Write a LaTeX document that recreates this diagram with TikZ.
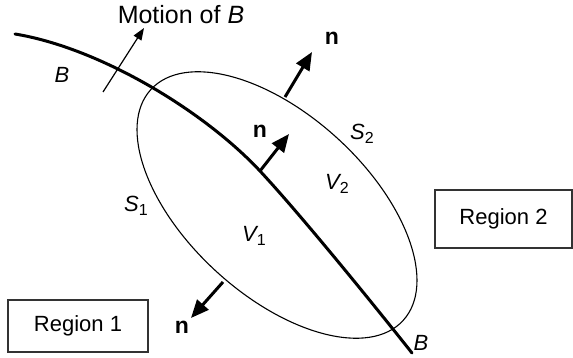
\documentclass[tikz,border=0pt]{standalone}
\usepackage{fontspec}
\setmainfont{Liberation Sans}
\usetikzlibrary{arrows.meta}
\newcommand{\lowsub}[1]{\raisebox{-0.32ex}{\fontsize{16}{16}\selectfont\upshape #1}}
\begin{document}
\begin{tikzpicture}[x=1pt,y=-1pt,
  ital/.style={inner sep=0pt, anchor=base, font=\fontsize{22}{24}\selectfont\itshape},
  nlbl/.style={inner sep=0pt, anchor=base, font=\fontsize{23}{24}\selectfont\bfseries},
  region/.style={draw=black!80, line width=1.2pt, inner sep=0pt, font=\fontsize{22}{24}\selectfont},
  boundary/.style={line width=3pt, line cap=round},
  surface/.style={line width=1.1pt},
  normalarrow/.style={line width=3pt, -{Triangle[length=18pt,width=15pt]}},
  motionarrow/.style={line width=1.2pt, -{Triangle[length=12pt,width=9pt]}}]
\useasboundingbox (0,0) rectangle (573,358);

% surface S (ellipse)
\draw[surface, rotate around={-42.5:(277,205)}] (277,205) ellipse [x radius=171, y radius=90];

% boundary B
\coordinate (bstart) at (15,34);
\coordinate (bmid) at (260,171);
\coordinate (bend) at (412,353);
\draw[boundary] (bstart) .. controls (100,48) and (204,111) .. (bmid)
                .. controls (300,214) and (370,300) .. (bend);

% normals
\coordinate (n1base) at (285,97);
\coordinate (n1tip) at (312,52);
\coordinate (n2base) at (bmid);
\coordinate (n2tip) at (289,134);
\coordinate (n3base) at (223,282);
\coordinate (n3tip) at (191,318);
\draw[normalarrow] (n1base) -- (n1tip);
\draw[normalarrow] (n2base) -- (n2tip);
\draw[normalarrow] (n3base) -- (n3tip);

% motion arrow
\coordinate (mstart) at (103,92);
\coordinate (mtip) at (144,28);
\draw[motionarrow] (mstart) -- (mtip);

% labels
\node[inner sep=0pt, anchor=base, font=\fontsize{25}{26}\selectfont] (motion) at (181,24) {Motion of \textit{B}};
\node[ital] (Btop) at (62,83) {B};
\node[ital] (Bbot) at (421,350) {B};
\node[nlbl] (ntop) at (332,45) {n};
\node[nlbl] (nmid) at (260,138) {n};
\node[nlbl] (nbot) at (182,333) {n};
\node[ital] (S2) at (362,140) {S\lowsub{2}};
\node[ital] (V2) at (337,190) {V\lowsub{2}};
\node[ital] (S1) at (136,212) {S\lowsub{1}};
\node[ital] (V1) at (254,242) {V\lowsub{1}};

% regions
\node[region, minimum width=137pt, minimum height=58pt] (reg2) at (503.5,219) {Region 2};
\node[region, minimum width=140pt, minimum height=52pt] (reg1) at (78,326) {Region 1};
\end{tikzpicture}
\end{document}
